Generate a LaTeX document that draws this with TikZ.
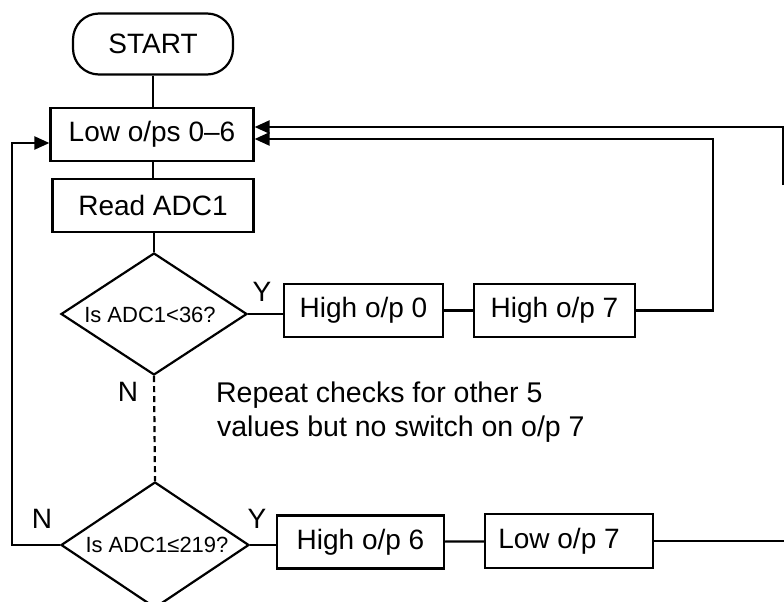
\documentclass[tikz,border=0pt]{standalone}
\usepackage{fontspec}
\setmainfont{Liberation Sans}
\usetikzlibrary{shapes.geometric,arrows.meta,calc}
\begin{document}
\begin{tikzpicture}[x=1pt,y=-1pt,
  line width=2.2pt,
  every node/.style={font=\fontsize{28}{34}\selectfont},
  box/.style={draw, rectangle, inner sep=0pt, line width=2.2pt},
  term/.style={draw, rectangle, rounded corners=26pt, inner sep=0pt, minimum width=160pt, minimum height=61pt, line width=2.2pt},
  decision/.style={draw, diamond, inner sep=0pt, line width=2.2pt},
  dtext/.style={font=\fontsize{22}{26}\selectfont, inner sep=0pt},
  notetext/.style={font=\fontsize{28.5}{34}\selectfont, inner sep=0pt},
  arr/.style={-{Triangle[length=15pt,width=13pt]}},
  lbl/.style={inner sep=0pt}]
\useasboundingbox (0,0) rectangle (784,602);
\clip (0,0) rectangle (784,602);

\node[term] (start) at (153,44) {START};
\node[box, minimum width=203pt, minimum height=53pt] (low) at (152,134.5) {Low o/ps 0–6};
\node[box, minimum width=201pt, minimum height=53pt] (read) at (153,205.5) {Read ADC1};
\node[decision, minimum width=186pt, minimum height=122pt] (d1) at (154,314) {};
\node[dtext] (d1t) at ($(d1.center)+(-4,1)$) {Is ADC1<36?};
\node[decision, minimum width=188pt, minimum height=126pt] (d2) at (155,545) {};
\node[dtext] (d2t) at ($(d2.center)+(2,0)$) {Is ADC1≤219?};

\node[box, minimum width=159pt, minimum height=53pt] (h0) at (363.5,310.5) {High o/p 0};
\node[box, minimum width=161pt, minimum height=53pt] (h7) at (554.5,310.5) {High o/p 7};
\node[box, minimum width=167pt, minimum height=53pt] (h6) at (360.5,542) {High o/p 6};
\node[box, minimum width=168pt, minimum height=54pt] (l7) at (569,541) {\hspace*{-20pt}Low o/p 7};

\node[lbl] (y1) at (262,292) {Y};
\node[lbl] (n1) at (128,392) {N};
\node[lbl] (y2) at (257,519) {Y};
\node[lbl] (n2) at (42,519) {N};
\node[notetext, anchor=base west] (note1) at (215,402) {Repeat checks for other 5};
\node[notetext, anchor=base west] (note2) at (216,436) {values but no switch on o/p 7};

\coordinate (r1) at (713,139);
\coordinate (e0) at (783,127);
\coordinate (e1) at (783,185);
\coordinate (l1) at (12,143);
\coordinate (e2) at (784,542);

\draw (start.south) -- (start.south |- low.north);
\draw (low.south -| read.north) -- (read.north);
\draw (read.south -| d1.north) -- (d1.north);
\draw (d1.east) -- (d1.east -| h0.west);
\draw (h0) -- (h7);
\draw[arr] (h7.east) -| (r1) -- (r1 -| low.east);
\draw[arr] (e1) -- (e0) -- (e0 -| low.east);
\draw[dash pattern=on 6pt off 4pt] (d1.south) -- (d2.north);
\draw[arr] (d2.west) -| (l1) -- (l1 -| low.west);
\draw (d2.east) -- (d2.east -| h6.west);
\draw (h6) -- (l7);
\draw (l7.east) -- (l7.east -| e2);
\end{tikzpicture}
\end{document}
